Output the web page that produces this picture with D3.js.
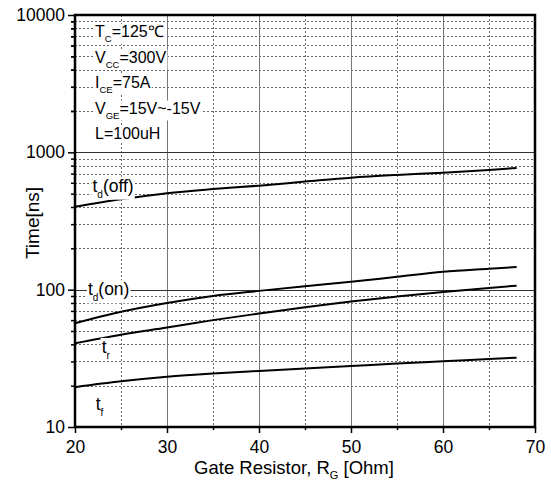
<!DOCTYPE html>
<html>
<head>
<meta charset="utf-8">
<script src="https://cdn.jsdelivr.net/npm/d3@7"></script>
<style>
  body { margin: 0; background: #fff; }
  text { font-family: "Liberation Sans", Arial, sans-serif; fill: #000; }
</style>
</head>
<body>
<div id="chart"></div>
<script>
// Switching time vs gate resistor

// Gate resistor values [Ohm]
let rg = [20, 25, 30, 35, 40, 45, 50, 55, 60, 65, 68];

// Times in ns
let tdOff = [402, 455, 504, 540, 572, 612, 654, 685, 711, 745, 770];
let tdOn = [57, 69, 80, 90, 98, 106, 114, 124, 135, 142, 146];
let tr = [40.7, 47, 53, 60, 67, 74.5, 82, 89, 96, 103, 107];
let tf = [19.5, 21.5, 23.2, 24.5, 25.6, 26.7, 27.8, 29, 30.1, 31.3, 32];

// Axis ticks
let xMajor = [20, 30, 40, 50, 60, 70];
let xMinor = [25, 35, 45, 55, 65];
let yMajor = [10, 100, 1000, 10000];

// Conditions text
let conditions = [
    ["T", "C", "=125\u2103"],
    ["V", "CC", "=300V"],
    ["I", "CE", "=75A"],
    ["V", "GE", "=15V~-15V"],
    ["L", "", "=100uH"]
];

// Curve labels: [main, sub, rest, x, y]
let curveLabels = [
    ["t", "d", "(off)", 21.9, 517],
    ["t", "d", "(on)", 21.4, 91],
    ["t", "r", "", 22.9, 34.6],
    ["t", "f", "", 22.25, 13.3]
];

let W = 551, H = 484;
let m = { t: 15, r: 16, b: 57, l: 75 };
let w = W - m.l - m.r;
let h = H - m.t - m.b;

let svg = d3.select("#chart").append("svg")
    .attr("width", W)
    .attr("height", H);

let x = d3.scaleLinear().domain([20, 70]).range([0, w]);
let y = d3.scaleLog().domain([10, 10000]).range([h, 0]);

let g = svg.append("g")
    .attr("transform", "translate(" + m.l + "," + m.t + ")");

// minor y values 2..9 per decade
let yMinor = [];
[10, 100, 1000].forEach(function (d) {
    for (let k = 2; k <= 9; k++) yMinor.push(d * k);
});

// dotted grid
g.selectAll("line.hmin")
    .data(yMinor)
    .enter().append("line")
    .attr("class", "hmin")
    .attr("x1", 0).attr("x2", w)
    .attr("y1", function (d) { return Math.round(y(d)) + 0.5; })
    .attr("y2", function (d) { return Math.round(y(d)) + 0.5; })
    .attr("stroke", "#666")
    .attr("stroke-width", 1)
    .attr("shape-rendering", "crispEdges")
    .attr("stroke-dasharray", "2,2");

g.selectAll("line.vmin")
    .data(xMinor)
    .enter().append("line")
    .attr("class", "vmin")
    .attr("x1", function (d) { return Math.round(x(d)) + 0.5; })
    .attr("x2", function (d) { return Math.round(x(d)) + 0.5; })
    .attr("y1", 0).attr("y2", h)
    .attr("stroke", "#666")
    .attr("stroke-width", 1)
    .attr("shape-rendering", "crispEdges")
    .attr("stroke-dasharray", "2,2");

// solid grid
g.selectAll("line.vmaj")
    .data(xMajor.slice(1, -1))
    .enter().append("line")
    .attr("class", "vmaj")
    .attr("x1", function (d) { return Math.round(x(d)) + 0.5; })
    .attr("x2", function (d) { return Math.round(x(d)) + 0.5; })
    .attr("y1", 0).attr("y2", h)
    .attr("stroke", "#777");

g.selectAll("line.hmaj")
    .data([100, 1000])
    .enter().append("line")
    .attr("class", "hmaj")
    .attr("x1", 0).attr("x2", w)
    .attr("y1", function (d) { return Math.round(y(d)) + 0.5; })
    .attr("y2", function (d) { return Math.round(y(d)) + 0.5; })
    .attr("stroke", "#333");

// axes
g.append("g")
    .attr("transform", "translate(0," + h + ")")
    .call(d3.axisBottom(x).tickValues(xMajor).tickSize(6).tickPadding(8));
g.append("g")
    .attr("transform", "translate(0," + h + ")")
    .call(d3.axisBottom(x).tickValues(xMinor).tickSize(3).tickFormat(""));

g.append("g")
    .call(d3.axisLeft(y).tickValues(yMajor).tickFormat(d3.format("d")).tickSize(7).tickPadding(3));
g.append("g")
    .call(d3.axisLeft(y).tickValues(yMinor.concat([2000, 3000, 4000, 5000, 6000, 7000, 8000, 9000])).tickSize(4).tickFormat(""));

g.selectAll(".domain").remove();
g.selectAll(".tick line").attr("stroke", "#000").attr("stroke-width", 1.5);
g.selectAll(".tick text").style("font-size", "17.5px").attr("fill", "#000");

// frame
g.append("rect")
    .attr("x", 0).attr("y", 0)
    .attr("width", w).attr("height", h)
    .attr("fill", "none")
    .attr("stroke", "#000")
    .attr("stroke-width", 2.5);

// curves
let line = d3.line()
    .x(function (d) { return x(d[0]); })
    .y(function (d) { return y(d[1]); })
    .curve(d3.curveMonotoneX);

[tdOff, tdOn, tr, tf].forEach(function (s) {
    g.append("path")
        .datum(rg.map(function (r, i) { return [r, s[i]]; }))
        .attr("d", line)
        .attr("fill", "none")
        .attr("stroke", "#000")
        .attr("stroke-width", 2);
});

// text with subscripts, on white boxes
function label(px, py, main, sub, rest, size, subSize, drop) {
    let t = g.append("text")
        .attr("x", px).attr("y", py)
        .style("font-size", size + "px");
    t.append("tspan").text(main);
    if (sub) {
        t.append("tspan").attr("dy", drop).style("font-size", subSize + "px").text(sub);
        t.append("tspan").attr("dy", -drop).text(rest);
    } else {
        t.append("tspan").text(rest);
    }
    let b = t.node().getBBox();
    g.insert("rect", function () { return t.node(); })
        .attr("x", b.x - 1).attr("y", b.y + 1)
        .attr("width", b.width + 2).attr("height", b.height - 1)
        .attr("fill", "#fff");
}

conditions.forEach(function (c, i) {
    label(20, 22 + i * 25.5, c[0], c[1], c[2], 16, 9.5, 5);
});

curveLabels.forEach(function (c) {
    label(x(c[3]), y(c[4]), c[0], c[1], c[2], 17.5, 10, 6);
});

// axis titles
let xt = svg.append("text")
    .attr("x", 294).attr("y", 474)
    .attr("text-anchor", "middle")
    .style("font-size", "18.5px");
xt.append("tspan").text("Gate Resistor, R");
xt.append("tspan").attr("dy", 5).style("font-size", "11px").text("G");
xt.append("tspan").attr("dy", -5).text(" [Ohm]");

svg.append("text")
    .attr("transform", "translate(39,223) rotate(-90)")
    .attr("text-anchor", "middle")
    .style("font-size", "19px")
    .text("Time[ns]");
</script>
</body>
</html>
